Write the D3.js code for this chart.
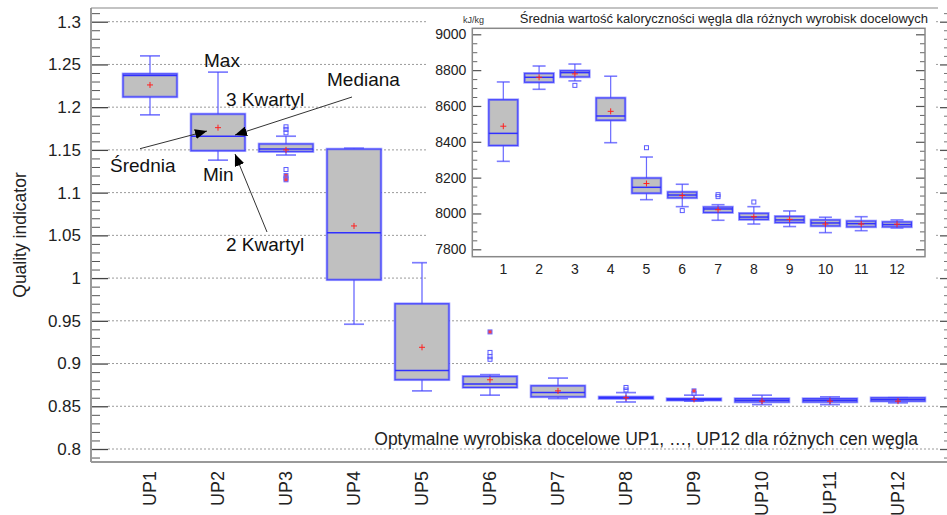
<!DOCTYPE html>
<html>
<head>
<meta charset="utf-8">
<script src="https://cdn.jsdelivr.net/npm/d3@7"></script>
<style>
body { margin: 0; background: #fff; }
text { font-family: "Liberation Sans", Arial, sans-serif; }
</style>
</head>
<body>
<div id="caja"></div>
<script>
// wskaznik jakosci - glowny wykres
var kategorie = ["UP1","UP2","UP3","UP4","UP5","UP6","UP7","UP8","UP9","UP10","UP11","UP12"];
var qMin  = [1.191, 1.138, 1.144, 0.946, 0.868, 0.863, 0.859, 0.855, 0.856, 0.852, 0.852, 0.854];
var qQ1   = [1.212, 1.149, 1.148, 0.998, 0.881, 0.872, 0.861, 0.859, 0.857, 0.855, 0.855, 0.856];
var qMed  = [1.237, 1.166, 1.151, 1.053, 0.892, 0.876, 0.866, 0.860, 0.858, 0.857, 0.857, 0.858];
var qQ3   = [1.239, 1.192, 1.157, 1.151, 0.970, 0.885, 0.874, 0.861, 0.859, 0.859, 0.859, 0.860];
var qMax  = [1.260, 1.241, 1.166, 1.152, 1.018, 0.887, 0.883, 0.866, 0.863, 0.863, 0.861, 0.860];
var qMean = [1.226, 1.176, 1.150, 1.061, 0.919, 0.881, 0.868, 0.860, 0.858, 0.856, 0.856, 0.856];
var qOut  = [[], [], [1.177, 1.174, 1.170, 1.127], [], [], [0.913, 0.908, 0.905], [], [0.872, 0.869], [0.865], [], [], []];
var qFar  = [[], [], [1.120, 1.117, 1.115], [], [], [0.937], [], [], [0.868], [], [], []];
var qTicks = [0.8, 0.85, 0.9, 0.95, 1, 1.05, 1.1, 1.15, 1.2, 1.25, 1.3];

// wartosc kaloryczna - wykres wstawiony
var kNum  = [1,2,3,4,5,6,7,8,9,10,11,12];
var kMin  = [8291, 8693, 8740, 8395, 8077, 8038, 7962, 7941, 7927, 7893, 7904, 7919];
var kQ1   = [8379, 8732, 8762, 8520, 8113, 8087, 8005, 7966, 7949, 7930, 7925, 7925];
var kMed  = [8447, 8760, 8786, 8544, 8146, 8103, 8025, 7980, 7964, 7947, 7943, 7938];
var kQ3   = [8635, 8782, 8797, 8645, 8198, 8120, 8036, 8001, 7984, 7964, 7958, 7953];
var kMax  = [8734, 8823, 8834, 8766, 8315, 8163, 8049, 8038, 8014, 7979, 7982, 7964];
var kMean = [8487, 8760, 8779, 8570, 8167, 8100, 8021, 7982, 7967, 7941, 7941, 7940];
var kOut  = [[], [], [8715], [], [8367], [8016], [8105, 8094], [8064], [], [], [], []];
var kTicks = [7800, 8000, 8200, 8400, 8600, 8800, 9000];

var w = 947, h = 515;

var svg = d3.select('#caja')
	.append('svg')
	.attr('width', w)
	.attr('height', h)
	.style("display", "block");

// obszar glownego wykresu
var L = 91, T = 8, R = 940, B = 462;
var x = d3.scaleLinear().domain([0, 11]).range([150, 898]);
var y = d3.scaleLinear().domain([0.8, 1.3]).range([449, 21.7]);

var qMinor = d3.range(79, 132).filter(function(i){ return i % 5 != 0; }).map(function(i){ return i / 100; });

// linie siatki
svg.append("g").selectAll("line")
	.data(qTicks)
	.enter().append("line")
	.attr("x1", L + 17).attr("x2", R - 2)
	.attr("y1", function(d){ return y(d); })
	.attr("y2", function(d){ return y(d); })
	.attr("stroke", "#9a9a9a")
	.attr("stroke-width", 1)
	.attr("stroke-dasharray", "2,2");

// os Y lewa
var axL = svg.append("g")
	.attr("transform", "translate(" + L + ",0)")
	.call(d3.axisLeft(y).tickValues(qTicks).tickSizeInner(-17).tickSizeOuter(0).tickPadding(10)
		.tickFormat(function(d){ return String(+d.toFixed(2)); }));
axL.select(".domain").remove();
axL.selectAll("line").attr("stroke", "#444").attr("stroke-width", 1.3);
axL.selectAll("text").attr("font-size", "17px").attr("fill", "#222")
	.style("font-family", "'Liberation Sans', Arial, sans-serif");

var axLm = svg.append("g")
	.attr("transform", "translate(" + L + ",0)")
	.call(d3.axisLeft(y).tickValues(qMinor).tickSizeInner(-9).tickSizeOuter(0).tickFormat(""));
axLm.select(".domain").remove();
axLm.selectAll("line").attr("stroke", "#555").attr("stroke-width", 1);

// os Y prawa (ticki)
var axR = svg.append("g")
	.attr("transform", "translate(" + R + ",0)")
	.call(d3.axisRight(y).tickValues(qTicks).tickSizeInner(9).tickSizeOuter(0).tickFormat(""));
axR.select(".domain").remove();
axR.selectAll("line").attr("stroke", "#555").attr("stroke-width", 1.3);
var axRm = svg.append("g")
	.attr("transform", "translate(" + (R + 4) + ",0)")
	.call(d3.axisRight(y).tickValues(qMinor).tickSizeInner(5).tickSizeOuter(0).tickFormat(""));
axRm.select(".domain").remove();
axRm.selectAll("line").attr("stroke", "#777").attr("stroke-width", 1);

// ramka
svg.append("line").attr("x1", L).attr("x2", L).attr("y1", T).attr("y2", B)
	.attr("stroke", "#999").attr("stroke-width", 2);
svg.append("line").attr("x1", L).attr("x2", w).attr("y1", B).attr("y2", B)
	.attr("stroke", "#999").attr("stroke-width", 2);
svg.append("line").attr("x1", L).attr("x2", R - 2).attr("y1", T).attr("y2", T)
	.attr("stroke", "#888").attr("stroke-width", 1.2);

// rysowanie pudelek
function pudelka(g, xs, ys, idx, mn, q1, med, q3, mx, mean, out, far, bw, cw, sw) {
	var gg = g.append("g");
	var sel = gg.selectAll("g.box").data(idx).enter().append("g").attr("class", "box");
	// wasy
	sel.append("line")
		.attr("x1", function(d, i){ return xs(d); }).attr("x2", function(d, i){ return xs(d); })
		.attr("y1", function(d, i){ return ys(mx[i]); }).attr("y2", function(d, i){ return ys(q3[i]); })
		.attr("stroke", "#4444ff").attr("stroke-opacity", 0.8).attr("stroke-width", sw);
	sel.append("line")
		.attr("x1", function(d, i){ return xs(d); }).attr("x2", function(d, i){ return xs(d); })
		.attr("y1", function(d, i){ return ys(q1[i]); }).attr("y2", function(d, i){ return ys(mn[i]); })
		.attr("stroke", "#4444ff").attr("stroke-opacity", 0.8).attr("stroke-width", sw);
	sel.append("line")
		.attr("x1", function(d){ return xs(d) - cw; }).attr("x2", function(d){ return xs(d) + cw; })
		.attr("y1", function(d, i){ return ys(mx[i]); }).attr("y2", function(d, i){ return ys(mx[i]); })
		.attr("stroke", "#4444ff").attr("stroke-opacity", 0.7).attr("stroke-width", sw + 0.4);
	sel.append("line")
		.attr("x1", function(d){ return xs(d) - cw; }).attr("x2", function(d){ return xs(d) + cw; })
		.attr("y1", function(d, i){ return ys(mn[i]); }).attr("y2", function(d, i){ return ys(mn[i]); })
		.attr("stroke", "#4444ff").attr("stroke-opacity", 0.7).attr("stroke-width", sw + 0.4);
	// pudelko
	sel.append("rect")
		.attr("x", function(d){ return xs(d) - bw; })
		.attr("width", bw * 2)
		.attr("y", function(d, i){ return ys(q3[i]); })
		.attr("height", function(d, i){ return Math.max(ys(q1[i]) - ys(q3[i]), 1); })
		.attr("fill", "#c0c0c0")
		.attr("stroke", "#5555ff").attr("stroke-opacity", 0.55).attr("stroke-width", 2.6);
	sel.append("rect")
		.attr("x", function(d){ return xs(d) - bw; })
		.attr("width", bw * 2)
		.attr("y", function(d, i){ return ys(q3[i]); })
		.attr("height", function(d, i){ return Math.max(ys(q1[i]) - ys(q3[i]), 1); })
		.attr("fill", "none")
		.attr("stroke", "#4040ff").attr("stroke-width", 1);
	// mediana
	sel.append("line")
		.attr("x1", function(d){ return xs(d) - bw; }).attr("x2", function(d){ return xs(d) + bw; })
		.attr("y1", function(d, i){ return ys(med[i]); }).attr("y2", function(d, i){ return ys(med[i]); })
		.attr("stroke", "#3030ff").attr("stroke-width", 1.5);
	// wartosci odstajace
	sel.each(function(d, i) {
		var gi = d3.select(this);
		gi.selectAll("rect.o").data(out[i]).enter().append("rect").attr("class", "o")
			.attr("x", xs(d) - 2).attr("y", function(v){ return ys(v) - 2; })
			.attr("width", 4).attr("height", 4)
			.attr("fill", "none").attr("stroke", "#5a5aff").attr("stroke-width", 1);
		gi.selectAll("rect.f").data(far[i]).enter().append("rect").attr("class", "f")
			.attr("x", xs(d) - 2).attr("y", function(v){ return ys(v) - 2; })
			.attr("width", 4).attr("height", 4)
			.attr("fill", "#ff4040").attr("stroke", "#6a6aff").attr("stroke-width", 1);
	});
	// srednia (+)
	sel.append("path")
		.attr("d", function(d, i){
			var cx = xs(d), cy = ys(mean[i]);
			return "M" + (cx - 3) + "," + cy + "H" + (cx + 3) + "M" + cx + "," + (cy - 3) + "V" + (cy + 3);
		})
		.attr("stroke", "#ff2020").attr("stroke-width", 1);
}

var idx = d3.range(kategorie.length);
pudelka(svg, x, y, idx, qMin, qQ1, qMed, qQ3, qMax, qMean, qOut, qFar, 27, 10, 1.3);

// etykiety osi X
svg.append("g").selectAll("text")
	.data(kategorie)
	.enter().append("text")
	.text(function(d){ return d; })
	.attr("transform", function(d, i){ return "translate(" + x(i) + ",471) rotate(-90)"; })
	.attr("text-anchor", "end")
	.attr("dy", "0.36em")
	.attr("font-size", "18px")
	.attr("fill", "#222");

// tytul osi Y
svg.append("text")
	.text("Quality indicator")
	.attr("transform", "translate(26,235) rotate(-90)")
	.attr("text-anchor", "middle")
	.attr("font-size", "17.5px")
	.attr("fill", "#222");

// opis dolny
svg.append("text")
	.text("Optymalne wyrobiska docelowe UP1, …, UP12 dla różnych cen węgla")
	.attr("x", 918).attr("y", 445)
	.attr("text-anchor", "end")
	.attr("font-size", "17.5px")
	.attr("fill", "#222");

// adnotacje ze strzalkami
svg.append("defs").append("marker")
	.attr("id", "grot")
	.attr("viewBox", "0 0 12 10")
	.attr("refX", 12).attr("refY", 5)
	.attr("markerWidth", 12).attr("markerHeight", 10)
	.attr("markerUnits", "userSpaceOnUse")
	.attr("orient", "auto")
	.append("path").attr("d", "M0,0 L12,5 L0,10 z").attr("fill", "#000");

var strzalki = [[140, 148.7, 207, 131], [352, 97, 235, 135], [267, 232, 235, 154]];
svg.append("g").selectAll("line")
	.data(strzalki)
	.enter().append("line")
	.attr("x1", function(d){ return d[0]; }).attr("y1", function(d){ return d[1]; })
	.attr("x2", function(d){ return d[2]; }).attr("y2", function(d){ return d[3]; })
	.attr("stroke", "#333").attr("stroke-width", 1)
	.attr("marker-end", "url(#grot)");

var opisy = [["Max", 204, 67], ["Mediana", 327, 86], ["3 Kwartyl", 226, 106], ["Średnia", 110, 172], ["Min", 203, 181], ["2 Kwartyl", 226, 251]];
svg.append("g").selectAll("text")
	.data(opisy)
	.enter().append("text")
	.text(function(d){ return d[0]; })
	.attr("x", function(d){ return d[1]; })
	.attr("y", function(d){ return d[2]; })
	.attr("font-size", "19px")
	.attr("fill", "#111");

// ---- wykres wstawiony ----
var ins = svg.append("g");
ins.append("rect")
	.attr("x", 427).attr("y", T + 1)
	.attr("width", 936 - 427).attr("height", 285 - T - 1)
	.attr("fill", "#fff");

var iL = 472.3, iR = 925, iT = 28.3, iB = 256.7;
var xk = d3.scaleLinear().domain([1, 12]).range([503.3, 897]);
var yk = d3.scaleLinear().domain([7800, 9000]).range([249.3, 34.3]);
var kMinor = d3.range(7750, 9050, 50).filter(function(v){ return v % 200 != 0 && v > 7760 && v < 9030; });

var iax = ins.append("g")
	.attr("transform", "translate(" + iL + ",0)")
	.call(d3.axisLeft(yk).tickValues(kTicks).tickSizeInner(-9).tickSizeOuter(0).tickPadding(6)
		.tickFormat(d3.format("d")));
iax.select(".domain").remove();
iax.selectAll("line").attr("stroke", "#555").attr("stroke-width", 1.2);
iax.selectAll("text").attr("font-size", "14px").attr("fill", "#222")
	.style("font-family", "'Liberation Sans', Arial, sans-serif");
var iaxm = ins.append("g")
	.attr("transform", "translate(" + iL + ",0)")
	.call(d3.axisLeft(yk).tickValues(kMinor).tickSizeInner(-5).tickSizeOuter(0).tickFormat(""));
iaxm.select(".domain").remove();
iaxm.selectAll("line").attr("stroke", "#666");

var iaxr = ins.append("g")
	.attr("transform", "translate(" + iR + ",0)")
	.call(d3.axisRight(yk).tickValues(kTicks).tickSizeInner(-9).tickSizeOuter(0).tickFormat(""));
iaxr.select(".domain").remove();
iaxr.selectAll("line").attr("stroke", "#555").attr("stroke-width", 1.2);
var iaxrm = ins.append("g")
	.attr("transform", "translate(" + iR + ",0)")
	.call(d3.axisRight(yk).tickValues(kMinor).tickSizeInner(-5).tickSizeOuter(0).tickFormat(""));
iaxrm.select(".domain").remove();
iaxrm.selectAll("line").attr("stroke", "#666");

ins.append("rect")
	.attr("x", iL).attr("y", iT)
	.attr("width", iR - iL).attr("height", iB - iT)
	.attr("fill", "none").attr("stroke", "#888").attr("stroke-width", 1.5);

pudelka(ins, xk, yk, kNum, kMin, kQ1, kMed, kQ3, kMax, kMean, kOut, kNum.map(function(){ return []; }), 14.5, 6.5, 1.2);

ins.append("g").selectAll("text")
	.data(kNum)
	.enter().append("text")
	.text(function(d){ return d; })
	.attr("x", function(d){ return xk(d); })
	.attr("y", 273.5)
	.attr("text-anchor", "middle")
	.attr("font-size", "14px")
	.attr("fill", "#222");

ins.append("text")
	.text("Średnia wartość kaloryczności węgla dla różnych wyrobisk docelowych")
	.attr("x", 928).attr("y", 23)
	.attr("text-anchor", "end")
	.attr("font-size", "13px")
	.attr("fill", "#222");

ins.append("text")
	.text("kJ/kg")
	.attr("x", 463).attr("y", 23)
	.attr("font-size", "9px")
	.attr("fill", "#333");
</script>
</body>
</html>
